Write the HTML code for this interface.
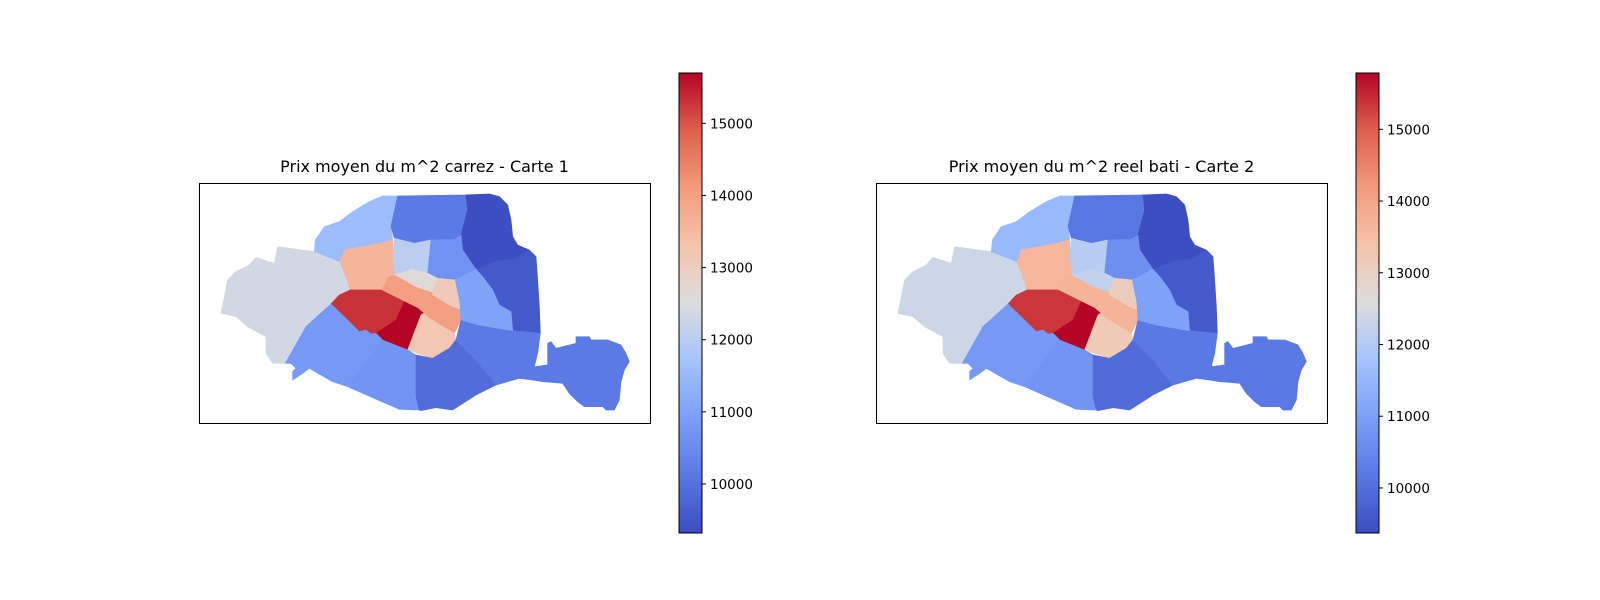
<!DOCTYPE html>
<html><head><meta charset="utf-8"><style>
html,body{margin:0;padding:0;background:#fff;}
svg{display:block;font-family:"DejaVu Sans","Liberation Sans",sans-serif;}
</style></head><body>
<svg id="fig" width="1600" height="600" viewBox="0 0 1600 600" xmlns="http://www.w3.org/2000/svg">
<defs>
<linearGradient id="cw" x1="0" y1="1" x2="0" y2="0">
<stop offset="0" stop-color="#3b4cc0"/><stop offset="0.125" stop-color="#5a78e4"/>
<stop offset="0.25" stop-color="#7b9ff9"/><stop offset="0.375" stop-color="#a5c3fe"/>
<stop offset="0.5" stop-color="#dcdddd"/><stop offset="0.625" stop-color="#f5c4ac"/>
<stop offset="0.75" stop-color="#f49a7b"/><stop offset="0.875" stop-color="#de604d"/>
<stop offset="1" stop-color="#b40426"/>
</linearGradient>
</defs>
</svg>
<script>
// arrondissement order
const arrondissements = ["16","17","18","19","20","9","10","2","3","1","4","8","7","6","5","15","14","13","12","11"];
// mean price per m^2, map 1 (carrez) and map 2 (reel bati)
const valuesCarte1 = [12350,11550,10150,9350,9550,12050,10650,12600,13100,14000,14000,13600,15300,15690,13200,10800,10700,9900,10150,11000];
const valuesCarte2 = [12350,11550,10150,9400,9600,12050,10650,12200,13100,13700,13700,13650,15350,15780,13200,10850,10750,9950,10200,11050];
const range1 = [9320, 15698];
const range2 = [9372, 15785];
const tickValues = [10000, 11000, 12000, 13000, 14000, 15000];

// geometry (outline shapes, in 1/3 px units)
const shapes = {
"16":"75,400 95,300 120,275 160,255 180,232 235,250 245,200 355,215 432,245 450,290 462,330 405,372 330,440 268,550 230,550 210,520 210,470 155,440 120,410",
"17":"355,215 358,180 385,140 430,125 470,95 520,65 560,48 605,48 585,140 590,180 530,195 445,210 432,245",
"18":"605,48 810,45 815,90 795,165 775,178 705,180 655,190 595,175 585,140",
"19":"810,45 880,42 910,50 935,75 945,120 950,170 965,195 1000,210 985,225 960,235 900,245 840,268 800,210 795,165 815,90",
"20":"840,268 900,245 960,235 1000,210 1020,230 1025,300 1030,380 1033,460 950,452 945,395 910,375 890,330 860,290",
"9":"595,175 655,190 705,180 695,280 650,268 595,285 590,230",
"10":"705,180 775,178 795,165 800,210 840,268 778,300 725,295 695,280",
"2":"595,285 650,268 695,280 725,295 708,338 660,322",
"3":"725,295 778,300 790,340 797,392 762,378 708,345 708,338",
"1":"555,330 578,288 595,285 660,322 708,338 708,345 683,400 665,385 625,365",
"4":"708,345 762,378 797,392 795,420 775,460 740,440 700,415 683,400",
"8":"432,245 445,210 530,195 590,180 590,230 595,285 578,288 555,330 462,330 450,290",
"7":"405,372 430,345 462,330 555,330 625,365 600,420 540,460 525,462 510,450 490,455",
"6":"625,365 665,385 683,400 675,405 635,510 560,480 540,460 600,420",
"5":"675,405 683,400 700,415 740,440 775,460 780,480 760,505 710,535 635,510",
"15":"405,372 490,455 510,450 525,462 540,460 560,480 455,620 410,605 340,565 320,580 290,600 290,575 300,565 285,550 268,550 330,440",
"14":"560,480 635,510 660,525 660,650 670,690 610,688 455,620",
"13":"660,525 710,535 760,505 780,480 840,540 900,615 840,645 770,690 720,683 675,692 670,690 660,650",
"12":"780,480 795,420 850,435 950,452 1033,460 1025,520 1015,560 1055,555 1055,490 1065,485 1080,505 1140,490 1140,470 1180,470 1185,480 1235,480 1275,495 1290,520 1300,545 1285,570 1275,605 1270,660 1255,690 1230,690 1220,680 1165,680 1145,665 1120,640 1100,610 1040,605 1010,600 970,595 900,615 840,540",
"11":"778,300 840,268 860,290 890,330 910,375 945,395 950,452 850,435 795,420 790,340 797,392"
};
const NS = "http://www.w3.org/2000/svg";
const svg = document.getElementById('fig');
const stops = [[59,76,192],[90,120,228],[123,159,249],[165,195,254],[220,221,221],[245,196,172],[244,154,123],[222,96,77],[180,4,38]];
function cmap(t){
  t = Math.max(0, Math.min(1, t));
  const p = t*8, i = Math.min(7, Math.floor(p)), f = p - i;
  const a = stops[i], b = stops[i+1];
  return 'rgb(' + a.map((v,k)=>Math.round(v+(b[k]-v)*f)).join(',') + ')';
}
function el(tag, attrs, parent){
  const e = document.createElementNS(NS, tag);
  for (const k in attrs) e.setAttribute(k, attrs[k]);
  (parent||svg).appendChild(e); return e;
}
function panel(idx, ox, title, values, range){
  const fx = 199 + ox, fy = 183, fw = 451, fh = 240;
  const t = el('text', {x: fx + fw/2, y: 172, 'text-anchor':'middle', 'font-size':'16', fill:'#000'});
  t.textContent = title;
  
  
  const g = el('g', {transform: 'translate(' + (196+ox) + ',180) scale(0.33333)'});
  
  
  arrondissements.forEach((a, i) => {
    const c = cmap((values[i]-range[0])/(range[1]-range[0]));
    const p = el('polygon', {points: shapes[a], fill: c, stroke: c, 'stroke-width': '2', 'stroke-linejoin':'round'}, g);
    
    
  });
  const fr = el('rect', {x: fx+0.5, y: fy+0.5, width: fw, height: fh, fill:'none', stroke:'#000', 'stroke-width':'1'});
  
  
  // colorbar
  const cx = 679 + ox, cy = 73, cw = 23, ch = 460;
  const cb = el('rect', {x: cx, y: cy, width: cw, height: ch, fill: 'url(#cw)', stroke:'#000', 'stroke-width':'1'});
  
  
  const yv = v => cy + ch - (v - range[0])/(range[1]-range[0])*ch;
  tickValues.forEach(v => {
    const y = yv(v);
    const tk = el('line', {x1: cx+cw, x2: cx+cw+4, y1: y, y2: y, stroke:'#000', 'stroke-width':'1'});
    
    
    const lb = el('text', {x: cx+cw+8, y: y+5, 'font-size':'13.5', fill:'#000'});
    lb.textContent = String(v);
    
    
  });
}
panel(1, 0, "Prix moyen du m^2 carrez - Carte 1", valuesCarte1, range1);
panel(2, 677, "Prix moyen du m^2 reel bati - Carte 2", valuesCarte2, range2);
</script>
</body></html>
